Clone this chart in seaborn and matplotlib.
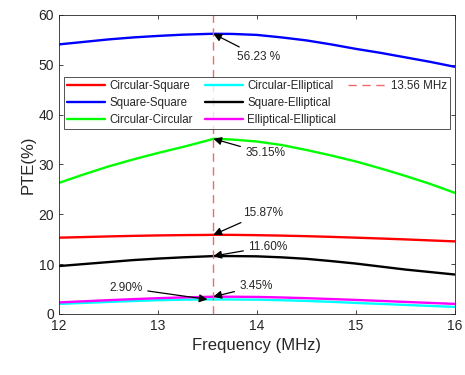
import numpy as np
import pandas as pd
import matplotlib
matplotlib.use("Agg")
import matplotlib.pyplot as plt
from matplotlib.lines import Line2D
import seaborn as sns

# Data
frekuensi = [12.0, 12.25, 12.5, 12.75, 13.0, 13.25, 13.5, 13.56, 13.75, 14.0,
             14.25, 14.5, 14.75, 15.0, 15.25, 15.5, 15.75, 16.0]

circular_square = [15.30, 15.42, 15.55, 15.66, 15.75, 15.81, 15.85, 15.87, 15.86, 15.80,
                   15.71, 15.60, 15.46, 15.30, 15.13, 14.95, 14.75, 14.55]
square_square = [54.1, 54.6, 55.1, 55.5, 55.8, 56.05, 56.2, 56.23, 56.2, 56.0,
                 55.5, 54.9, 54.1, 53.2, 52.4, 51.5, 50.6, 49.6]
circular_circular = [26.3, 28.0, 29.6, 31.0, 32.3, 33.5, 34.8, 35.15, 35.0, 34.6,
                     33.9, 32.9, 31.8, 30.6, 29.2, 27.7, 26.1, 24.3]
circular_elliptical = [2.00, 2.20, 2.40, 2.58, 2.75, 2.85, 2.90, 2.90, 2.89, 2.85,
                       2.74, 2.60, 2.42, 2.20, 2.00, 1.80, 1.60, 1.40]
square_elliptical = [9.6, 10.0, 10.4, 10.8, 11.1, 11.35, 11.55, 11.60, 11.6, 11.55,
                     11.35, 11.05, 10.6, 10.1, 9.5, 8.9, 8.4, 7.9]
elliptical_elliptical = [2.30, 2.53, 2.75, 2.96, 3.15, 3.30, 3.42, 3.45, 3.44, 3.40,
                         3.29, 3.15, 2.98, 2.80, 2.60, 2.40, 2.20, 2.00]

nama_seri = ["Circular-Square", "Square-Square", "Circular-Circular",
             "Circular-Elliptical", "Square-Elliptical", "Elliptical-Elliptical"]
nilai_seri = [circular_square, square_square, circular_circular,
              circular_elliptical, square_elliptical, elliptical_elliptical]
warna = ["#FF0000", "#0000FF", "#00FF00", "#00FFFF", "#000000", "#FF00FF"]

f_resonansi = 13.56

# label anotasi: (teks, titik panah, posisi teks)
anotasi = [
    ("56.23 %", (13.56, 56.23), (13.80, 51.6)),
    ("35.15%", (13.56, 35.15), (13.88, 32.2)),
    ("15.87%", (13.56, 15.87), (13.86, 20.3)),
    ("11.60%", (13.56, 11.60), (13.91, 13.5)),
    ("3.45%", (13.56, 3.45), (13.82, 5.5)),
    ("2.90%", (13.50, 2.90), (12.85, 5.2)),
]

# Susun data panjang untuk seaborn
df = pd.DataFrame({
    "freq": np.tile(frekuensi, len(nama_seri)),
    "pte": np.concatenate(nilai_seri),
    "seri": np.repeat(nama_seri, len(frekuensi)),
})

sns.set_style("white")
plt.rcParams["font.family"] = ["Liberation Sans", "DejaVu Sans"]

fig = plt.figure(figsize=(4.65, 3.75), dpi=100)
ax = fig.add_axes([0.127, 0.163, 0.851, 0.797])

sns.lineplot(data=df, x="freq", y="pte", hue="seri", hue_order=nama_seri,
             palette=warna, linewidth=1.7, ax=ax, sort=True)

ax.axvline(f_resonansi, color="#F06A6A", linestyle=(0, (6, 4)), linewidth=1.0,
           label="13.56 MHz")

for teks, titik, pos in anotasi:
    ha = "right" if pos[0] < titik[0] else "left"
    ax.annotate(teks, xy=titik, xytext=pos, fontsize=8.5, color="#262626",
                ha=ha, va="center",
                arrowprops=dict(arrowstyle="-|>", color="black", lw=0.9,
                                mutation_scale=12, shrinkA=1, shrinkB=0))

ax.set_xlim(12, 16)
ax.set_ylim(0, 60)
ax.set_xticks([12, 13, 14, 15, 16])
ax.set_yticks([0, 10, 20, 30, 40, 50, 60])
ax.tick_params(direction="in", length=3, width=0.6, colors="#262626",
               labelsize=10, top=True, right=True, bottom=True, left=True)
for sp in ax.spines.values():
    sp.set_color("#262626")
    sp.set_linewidth(0.6)

ax.set_xlabel("Frequency (MHz)", fontsize=12, color="#262626")
ax.set_ylabel("PTE(%)", fontsize=12, color="#262626", labelpad=2)

# legenda 3 kolom: 3 + 3 + (garis 13.56 MHz, dua kosong)
handles, labels = ax.get_legend_handles_labels()
kosong = Line2D([], [], linestyle="none")
handles = handles + [kosong, kosong]
labels = labels + ["", ""]
leg = ax.legend(handles, labels, ncol=3, fontsize=8.3, loc="lower left",
                bbox_to_anchor=(0.013, 0.619, 0.974, 0.187), mode="expand",
                frameon=True, fancybox=False, edgecolor="#262626",
                handlelength=3.3, handletextpad=0.4, columnspacing=0.6,
                labelspacing=0.45, borderpad=0.25, borderaxespad=0)
leg.get_frame().set_linewidth(0.7)

fig.savefig("out.png", dpi=100)
